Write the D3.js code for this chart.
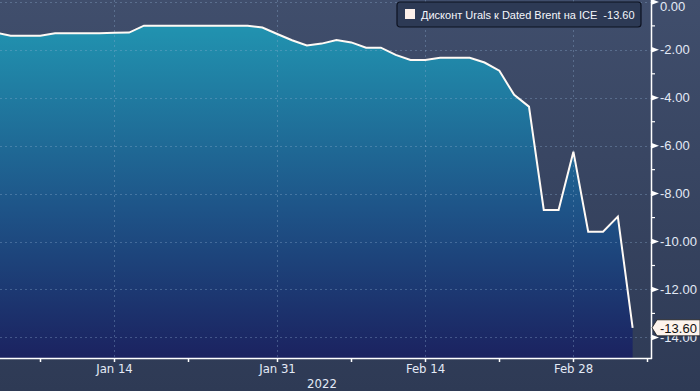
<!DOCTYPE html>
<meta charset="utf-8">
<style>
body { margin: 0; background: #2f3b56; }
svg { display: block; }
.ylab { font-family: "Liberation Sans", Arial, sans-serif; font-size: 13px; fill: #e3eaf6; }
.xlab { font-family: "Liberation Sans Narrow", "DejaVu Sans Condensed", "Liberation Sans", sans-serif; font-size: 13px; fill: #e3eaf6; }
.leg { font-family: "Liberation Sans", Arial, sans-serif; font-size: 11px; fill: #f4f6fb; }
</style>
<script src="https://cdn.jsdelivr.net/npm/d3@7"></script>
<svg width="700" height="391"></svg>
<script>

// trading days Jan 4 .. Mar 4 2022
var dates = ["2022-01-04","2022-01-05","2022-01-06","2022-01-07","2022-01-10","2022-01-11","2022-01-12",
    "2022-01-13","2022-01-14","2022-01-17","2022-01-18","2022-01-19","2022-01-20","2022-01-21",
    "2022-01-24","2022-01-25","2022-01-26","2022-01-27","2022-01-28","2022-01-31","2022-02-01",
    "2022-02-02","2022-02-03","2022-02-04","2022-02-07","2022-02-08","2022-02-09","2022-02-10",
    "2022-02-11","2022-02-14","2022-02-15","2022-02-16","2022-02-17","2022-02-18","2022-02-21",
    "2022-02-22","2022-02-23","2022-02-24","2022-02-25","2022-02-28","2022-03-01","2022-03-02",
    "2022-03-03","2022-03-04"];
var values = [-1.28,-1.41,-1.41,-1.41,-1.31,-1.31,-1.31,
    -1.31,-1.29,-1.28,-0.99,-0.99,-0.99,-0.99,
    -0.99,-0.99,-0.99,-0.99,-1.07,-1.34,-1.60,
    -1.82,-1.74,-1.59,-1.69,-1.91,-1.91,-2.21,
    -2.42,-2.42,-2.33,-2.33,-2.33,-2.53,-2.87,
    -3.88,-4.37,-8.68,-8.68,-6.25,-9.59,-9.59,
    -8.96,-13.60];

var tickDates = ["2022-01-07","2022-01-14","2022-01-21","2022-01-31","2022-02-07","2022-02-14","2022-02-21","2022-02-28","2022-03-07"];
var tickLabels = ["", "Jan 14", "", "Jan 31", "", "Feb 14", "", "Feb 28", ""];
var yTicks = [0, -2, -4, -6, -8, -10, -12, -14];
var yMinor = [-1, -3, -5, -7, -9, -11, -13];
var yearLabel = "2022";
var seriesName = "Дисконт Urals к Dated Brent на ICE";
var lastValue = values[values.length - 1];

var svg = d3.select("svg"),
    width = +svg.attr("width"),
    height = +svg.attr("height");

var plotW = 651, plotH = 358;

// weekday count since Jan 3 2022 (trading-day axis)
var t0 = new Date(2022, 0, 3);
function tradeIdx(s) {
    var p = s.split("-"), d = new Date(+p[0], +p[1] - 1, +p[2]);
    var n = 0, c = new Date(t0);
    while (c < d) { c.setDate(c.getDate() + 1); var w = c.getDay(); if (w != 0 && w != 6) n++; }
    return n;
}

var x = d3.scaleLinear().domain([1.28, 45.24]).range([0, plotW]);
var y = d3.scaleLinear().domain([0.08, -14.86]).range([0, plotH]);

var data = dates.map(function(d, i) { return {i: tradeIdx(d), v: values[i]}; });

var defs = svg.append("defs");
var bg = defs.append("linearGradient").attr("id", "bg").attr("x1", 0).attr("y1", 0).attr("x2", 0).attr("y2", 1);
bg.append("stop").attr("offset", "0%").attr("stop-color", "#404e6c");
bg.append("stop").attr("offset", "100%").attr("stop-color", "#2e3a55");

var ag = defs.append("linearGradient").attr("id", "ag").attr("gradientUnits", "userSpaceOnUse")
    .attr("x1", 0).attr("y1", y(-0.99)).attr("x2", 0).attr("y2", plotH);
ag.append("stop").attr("offset", "0%").attr("stop-color", "#2193b0");
ag.append("stop").attr("offset", "55%").attr("stop-color", "#1e5488");
ag.append("stop").attr("offset", "100%").attr("stop-color", "#1b2260");

defs.append("clipPath").attr("id", "clip").append("rect").attr("width", plotW).attr("height", plotH);

svg.append("rect").attr("width", width).attr("height", height).attr("fill", "url(#bg)");

var plot = svg.append("g").attr("clip-path", "url(#clip)");

var area = d3.area().x(function(d) { return x(d.i); }).y0(plotH).y1(function(d) { return y(d.v); });
var line = d3.line().x(function(d) { return x(d.i); }).y(function(d) { return y(d.v); });

plot.append("path").datum(data).attr("d", area).attr("fill", "url(#ag)");

// grid
plot.selectAll(".hg").data(yTicks).enter().append("line")
    .attr("x1", 0).attr("x2", plotW)
    .attr("y1", function(d) { return Math.round(y(d)) + 0.5; })
    .attr("y2", function(d) { return Math.round(y(d)) + 0.5; })
    .attr("stroke", "#8fb0d0").attr("stroke-opacity", 0.35).attr("stroke-dasharray", "2,3");
plot.selectAll(".vg").data(tickDates.filter(function(d, i) { return tickLabels[i]; })).enter().append("line")
    .attr("x1", function(d) { return Math.round(x(tradeIdx(d))) + 0.5; })
    .attr("x2", function(d) { return Math.round(x(tradeIdx(d))) + 0.5; })
    .attr("y1", 0).attr("y2", plotH)
    .attr("stroke", "#8fb0d0").attr("stroke-opacity", 0.35).attr("stroke-dasharray", "2,3");

plot.append("path").datum(data).attr("d", line)
    .attr("fill", "none").attr("stroke", "#fffaf5").attr("stroke-width", 2).attr("stroke-linejoin", "miter");

// axes lines
svg.append("line").attr("x1", 0).attr("x2", plotW + 1).attr("y1", plotH + 0.5).attr("y2", plotH + 0.5)
    .attr("stroke", "#fff").attr("stroke-width", 1.5);
svg.append("line").attr("x1", plotW + 0.5).attr("x2", plotW + 0.5).attr("y1", 0).attr("y2", plotH + 1)
    .attr("stroke", "#fff").attr("stroke-width", 1.5);

// x ticks and labels
var xt = svg.selectAll(".xt").data(tickDates).enter().append("g")
    .attr("transform", function(d) { return "translate(" + (Math.round(x(tradeIdx(d))) + 0.5) + "," + plotH + ")"; });
xt.append("line").attr("y1", 0).attr("y2", 4).attr("stroke", "#fff").attr("stroke-width", 1.5);
xt.append("text").attr("class", "xlab").attr("y", 15).attr("text-anchor", "middle")
    .text(function(d, i) { return tickLabels[i]; });
svg.append("text").attr("class", "xlab").attr("x", 322).attr("y", 388).attr("text-anchor", "middle").text(yearLabel);

// y ticks and labels
var yt = svg.selectAll(".yt").data(yTicks).enter().append("g")
    .attr("transform", function(d) { return "translate(" + plotW + "," + y(d) + ")"; });
yt.append("path").attr("d", "M0,-3L8,0L0,3Z").attr("fill", "#fff");
yt.append("text").attr("class", "ylab").attr("x", 9)
    .attr("y", function(d) { return Math.max(4.5, 11 - y(d)); })
    .text(function(d) { return d3.format(".2f")(d).replace("−", "-"); });
svg.selectAll(".ym").data(yMinor).enter().append("line")
    .attr("x1", plotW).attr("x2", plotW + 4)
    .attr("y1", function(d) { return y(d); }).attr("y2", function(d) { return y(d); })
    .attr("stroke", "#fff").attr("stroke-width", 1.2);

// last value tag
var ly = y(lastValue);
svg.append("path").attr("d", "M" + (plotW + 1) + "," + ly + "L" + (plotW + 6) + "," + (ly - 8) + "L" + width + "," + (ly - 8) +
        "L" + width + "," + (ly + 8) + "L" + (plotW + 6) + "," + (ly + 8) + "Z")
    .attr("fill", "#fdf3ec").attr("stroke", "#1a1a1a").attr("stroke-width", 0.8);
svg.append("text").attr("class", "ylab").attr("x", plotW + 9).attr("y", ly + 5).style("fill", "#111")
    .text(d3.format(".2f")(lastValue).replace("−", "-"));

// legend
var lg = svg.append("g").attr("transform", "translate(397,2)");
lg.append("rect").attr("width", 244).attr("height", 25).attr("rx", 3)
    .attr("fill", "#2d3a55").attr("stroke", "#0d1220").attr("stroke-width", 1.2);
lg.append("rect").attr("x", 8).attr("y", 7).attr("width", 10).attr("height", 10).attr("fill", "#fdf0ea");
lg.append("text").attr("class", "leg").attr("x", 24).attr("y", 17).attr("xml:space", "preserve")
    .text(seriesName + "  " + d3.format(".2f")(lastValue).replace("−", "-"));

</script>
